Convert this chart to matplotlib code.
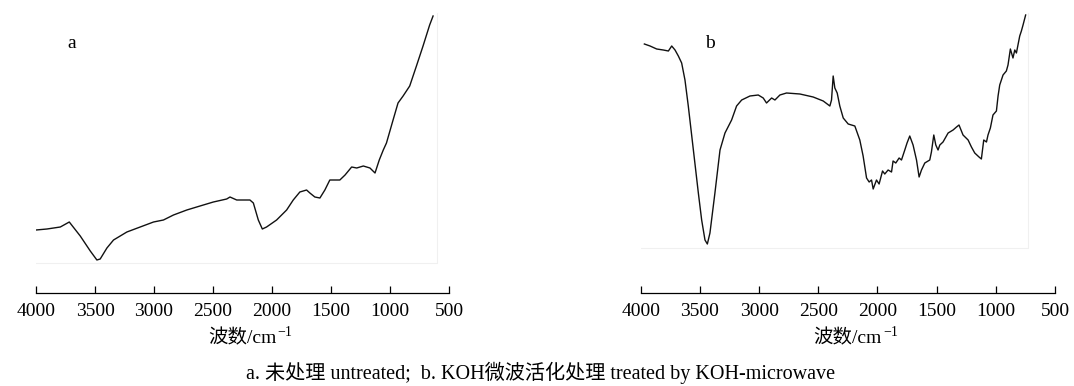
import matplotlib
matplotlib.use("Agg")
import matplotlib.pyplot as plt

# ---- data (wavenumber cm^-1, transmittance a.u.) ----
wn_a = [4000, 3907, 3794, 3718, 3625, 3540, 3484, 3456, 3399, 3343, 3230, 3117, 3004,
        2920, 2835, 2722, 2610, 2497, 2384, 2356, 2299, 2187, 2158, 2116, 2082, 2046,
        1961, 1876, 1820, 1764, 1707, 1679, 1637, 1594, 1552, 1510, 1425, 1381, 1325,
        1282, 1226, 1170, 1127, 1091, 1057, 1030, 974, 932, 889, 833, 776, 720, 664, 635]
t_a = [63, 64, 66, 71, 57, 42, 33, 34, 45, 53, 61, 66, 71,
       73, 78, 83, 87, 91, 94, 96, 93, 93, 90, 73, 64, 66,
       73, 83, 93, 101, 103, 100, 96, 95, 103, 113, 113, 118, 126,
       125, 127, 125, 120, 133, 143, 150, 173, 190, 197, 207, 227, 247, 268, 277]

wn_b = [3969, 3921, 3865, 3809, 3766, 3738, 3710, 3682, 3654, 3626, 3598, 3555, 3513,
        3485, 3457, 3437, 3415, 3373, 3330, 3288, 3232, 3190, 3147, 3077, 3007, 2965,
        2937, 2894, 2866, 2824, 2768, 2655, 2543, 2458, 2402, 2388, 2374, 2360, 2340,
        2318, 2289, 2247, 2191, 2149, 2121, 2092, 2070, 2050, 2036, 2008, 1986, 1957,
        1938, 1910, 1881, 1868, 1845, 1817, 1797, 1769, 1750, 1727, 1699, 1670, 1648,
        1628, 1600, 1558, 1544, 1524, 1507, 1488, 1473, 1446, 1403, 1361, 1332, 1311,
        1277, 1234, 1206, 1178, 1142, 1122, 1102, 1079, 1066, 1046, 1024, 995, 981,
        967, 939, 911, 897, 877, 855, 840, 826, 798, 784, 770, 748]
t_b = [249, 247, 244, 243, 242, 247, 243, 237, 230, 213, 187, 143, 100,
       73, 53, 49, 60, 100, 143, 160, 173, 187, 193, 197, 198, 195,
       190, 195, 193, 198, 200, 199, 196, 192, 187, 193, 217, 205, 200,
       187, 175, 169, 167, 153, 137, 115, 111, 113, 104, 113, 109, 122,
       119, 123, 121, 132, 130, 135, 133, 143, 150, 157, 148, 133, 116,
       123, 130, 133, 141, 158, 148, 143, 148, 151, 160, 163, 166, 168,
       158, 153, 146, 140, 136, 134, 153, 151, 158, 165, 178, 182, 197,
       208, 218, 222, 228, 244, 235, 243, 240, 257, 262, 268, 278]

xticks = [4000, 3500, 3000, 2500, 2000, 1500, 1000, 500]
panel_letters = ["a", "b"]
xlabel_main = "波数/cm"
xlabel_sup = "−1"
caption = "a. 未处理 untreated;  b. KOH微波活化处理 treated by KOH-microwave"

# faint frame limits of each spectrum window (wavenumber right edge, bottom level)
frame_right = [599, 728]
frame_bottom = [30, 45]

plt.rcParams['font.family'] = ['Liberation Serif', 'Noto Sans CJK SC', 'DejaVu Sans']

W, H = 1074, 386
fig = plt.figure(figsize=(W / 100, H / 100), dpi=100)

lefts = [36, 640.7]
width_px = [413, 414.3]
axis_y = 293

series = [(wn_a, t_a), (wn_b, t_b)]
letter_pos = [(3695, 249), (3415, 249)]

labels = []
for i in range(2):
    ax = fig.add_axes([lefts[i] / W, (H - axis_y) / H, width_px[i] / W, axis_y / H])
    wn, t = series[i]
    ax.plot(wn, t, color='#111111', lw=1.0)
    # faint frame
    ax.plot([4000, frame_right[i], frame_right[i]], [frame_bottom[i], frame_bottom[i], 280],
            color='#f0f0f0', lw=0.8, zorder=0)
    ax.set_xlim(4000, 500)
    ax.set_ylim(0, axis_y)
    for s in ['left', 'right', 'top']:
        ax.spines[s].set_visible(False)
    ax.spines['bottom'].set_linewidth(0.9)
    ax.set_yticks([])
    ax.set_xticks(xticks)
    ax.set_xticklabels([str(v) for v in xticks])
    ax.tick_params(axis='x', direction='in', length=5, width=0.9, pad=7, labelsize=14)
    lab = ax.set_xlabel(xlabel_main, fontsize=14, labelpad=7)
    labels.append((ax, lab))
    ax.text(letter_pos[i][0], letter_pos[i][1], panel_letters[i], fontsize=14,
            ha='center', va='center')
    ax.patch.set_alpha(0)

# raised superscript after "cm"
fig.canvas.draw()
renderer = fig.canvas.get_renderer()
inv = fig.transFigure.inverted()
for ax, lab in labels:
    bb = lab.get_window_extent(renderer)
    x1, y1 = inv.transform((bb.x1 + 1, bb.y0 + 0.62 * bb.height))
    fig.text(x1, y1, xlabel_sup, fontsize=10, ha='left', va='baseline',
             family='Liberation Serif')

fig.text(0.503, (H - 373) / H, caption, ha='center', va='center', fontsize=14.5)

fig.savefig('out.png', dpi=100)
